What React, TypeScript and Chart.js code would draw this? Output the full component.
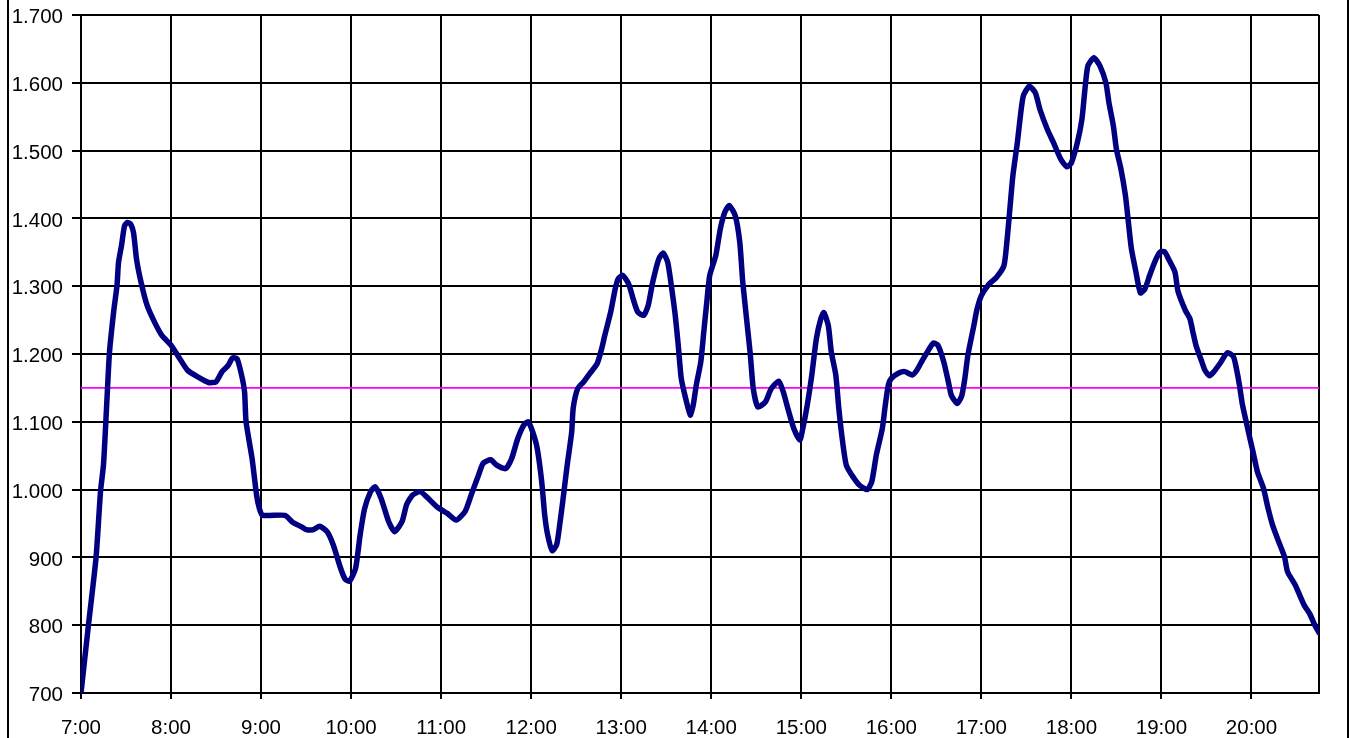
import React, { useEffect, useRef } from "react";
import { Chart, registerables } from "chart.js";

Chart.register(...registerables);

// minutes after 7:00
const minutes = [
  0, 5, 10, 13, 15, 17, 19, 22, 24, 25, 27, 29, 31, 33, 35, 37, 40, 44, 49, 54,
  60, 65, 71, 78, 85, 90, 94, 98, 101, 104, 107, 109, 110, 114, 117, 119, 121, 136, 141, 147,
  150, 155, 159, 164, 168, 173, 176, 179, 183, 186, 189, 193, 196, 200, 205, 209, 214, 217, 221, 226,
  230, 237, 244, 250, 256, 260, 265, 268, 273, 277, 283, 287, 291, 295, 298, 301, 304, 307, 309, 311,
  314, 317, 319, 321, 324, 327, 328, 331, 335, 339, 344, 347, 349, 353, 356, 358, 361, 365, 368, 371,
  375, 378, 381, 385, 388, 391, 394, 396, 398, 400, 403, 406, 408, 410, 413, 415, 417, 419, 423, 426,
  429, 432, 436, 439, 441, 444, 446, 448, 451, 456, 460, 465, 468, 471, 475, 479, 481, 484, 487, 490,
  493, 495, 498, 500, 503, 505, 507, 510, 515, 519, 524, 527, 530, 534, 536, 538, 540, 545, 549, 554,
  557, 560, 564, 568, 571, 575, 578, 580, 584, 587, 589, 591, 595, 597, 600, 605, 610, 615, 617, 619,
  621, 624, 626, 628, 632, 636, 639, 644, 648, 653, 657, 660, 664, 667, 669, 671, 675, 679, 683, 685,
  688, 690, 693, 696, 698, 700, 703, 706, 709, 712, 716, 719, 722, 725, 729, 731, 736, 739, 741, 743,
  747, 749, 752, 755, 759, 764, 768, 770, 772, 774, 777, 779, 781, 784, 788, 791, 794, 798, 802, 804,
  809, 812, 815, 819, 822, 825,
];

const values = [
  700, 801, 899, 997, 1037, 1120, 1203, 1267, 1301, 1335, 1360, 1389, 1394, 1392, 1379, 1340, 1306, 1272, 1247, 1227,
  1213, 1196, 1176, 1166, 1158, 1159, 1174, 1183, 1194, 1193, 1169, 1144, 1100, 1046, 992, 971, 962, 962, 952, 945,
  941, 941, 946, 938, 919, 884, 868, 865, 884, 933, 972, 997, 1004, 987, 953, 938, 953, 978, 992, 997,
  990, 975, 965, 955, 968, 992, 1022, 1039, 1044, 1036, 1031, 1046, 1075, 1095, 1100, 1085, 1061, 1012, 963, 933,
  910, 919, 948, 982, 1036, 1085, 1120, 1149, 1159, 1171, 1186, 1208, 1227, 1262, 1296, 1311, 1316, 1303, 1281, 1262,
  1257, 1272, 1306, 1340, 1349, 1335, 1291, 1257, 1213, 1164, 1134, 1110, 1125, 1154, 1188, 1232, 1276, 1316, 1345, 1384,
  1409, 1419, 1404, 1365, 1306, 1242, 1200, 1149, 1122, 1129, 1149, 1160, 1144, 1120, 1090, 1073, 1090, 1125, 1169, 1222,
  1252, 1261, 1242, 1203, 1169, 1120, 1080, 1036, 1017, 1006, 1000, 1012, 1051, 1090, 1125, 1154, 1164, 1172, 1174, 1169,
  1176, 1188, 1203, 1216, 1213, 1188, 1159, 1139, 1127, 1139, 1164, 1198, 1242, 1265, 1286, 1303, 1313, 1330, 1365, 1414,
  1463, 1512, 1551, 1581, 1595, 1585, 1561, 1531, 1512, 1487, 1476, 1482, 1512, 1546, 1590, 1625, 1637, 1625, 1600, 1571,
  1536, 1502, 1473, 1434, 1394, 1355, 1321, 1290, 1296, 1315, 1338, 1350, 1351, 1339, 1321, 1293, 1264, 1252, 1232, 1213,
  1188, 1176, 1168, 1174, 1186, 1202, 1196, 1178, 1154, 1125, 1095, 1075, 1056, 1026, 1002, 973, 948, 924, 901, 879,
  860, 845, 830, 816, 801, 789,
];

const referenceValue = 1150;
const xMin = 0;
const xMax = 825;
const hourTicks = [0, 60, 120, 180, 240, 300, 360, 420, 480, 540, 600, 660, 720, 780];
const hourLabels = [
  "7:00", "8:00", "9:00", "10:00", "11:00", "12:00", "13:00",
  "14:00", "15:00", "16:00", "17:00", "18:00", "19:00", "20:00",
];
const yMin = 700;
const yMax = 1700;
const yStep = 100;

function formatY(v: number): string {
  const n = Math.round(v);
  if (n >= 1000) {
    const th = Math.floor(n / 1000);
    const rest = String(n % 1000).padStart(3, "0");
    return th + "." + rest;
  }
  return String(n);
}

export default function App() {
  const ref = useRef<HTMLCanvasElement | null>(null);

  useEffect(() => {
    if (!ref.current) return;
    const font = { family: "'Liberation Sans', Arial, sans-serif", size: 20.5 };
    const chart = new Chart(ref.current, {
      type: "line",
      data: {
        datasets: [
          {
            data: minutes.map((m, i) => ({ x: m, y: values[i] })),
            borderColor: "#000080",
            borderWidth: 5.5,
            pointRadius: 0,
            tension: 0.2,
            fill: false,
            borderJoinStyle: "round",
            borderCapStyle: "round",
            order: 0,
          },
          {
            data: [
              { x: xMin, y: referenceValue },
              { x: xMax, y: referenceValue },
            ],
            borderColor: "#FF00FF",
            borderWidth: 1.6,
            pointRadius: 0,
            fill: false,
            order: 1,
          },
        ],
      },
      options: {
        responsive: false,
        animation: false,
        events: [],
        layout: { padding: { left: 0, top: 15, right: 32, bottom: 0 } },
        plugins: { legend: { display: false }, tooltip: { enabled: false }, title: { display: false } },
        scales: {
          x: {
            type: "linear",
            min: xMin,
            max: xMax,
            afterBuildTicks: (s: any) => {
              s.ticks = hourTicks.concat([xMax]).map((v) => ({ value: v }));
            },
            afterFit: (s: any) => {
              s.height = 45;
              s.paddingLeft = 0;
              s.paddingRight = 0;
            },
            ticks: {
              autoSkip: false,
              maxRotation: 0,
              minRotation: 0,
              color: "#000",
              font,
              padding: 17,
              callback: (v: any) => {
                const idx = hourTicks.indexOf(Number(v));
                return idx >= 0 ? hourLabels[idx] : "";
              },
            },
            grid: {
              color: "#000",
              lineWidth: 2,
              tickLength: 6,
              tickColor: (ctx: any) => (ctx.tick && ctx.tick.value === xMax ? "rgba(0,0,0,0)" : "#000"),
            },
            border: { color: "#000", width: 2 },
          },
          y: {
            type: "linear",
            min: yMin,
            max: yMax,
            afterFit: (s: any) => {
              s.width = 81;
              s.paddingTop = 0;
              s.paddingBottom = 0;
            },
            ticks: {
              stepSize: yStep,
              color: "#000",
              font,
              padding: 9,
              labelOffset: 2.5,
              callback: (v: any) => formatY(Number(v)),
            },
            grid: { color: "#000", lineWidth: 2, tickLength: 9 },
            border: { color: "#000", width: 2 },
          },
        },
      },
    } as any);
    return () => chart.destroy();
  }, []);

  return (
    <div style={{ position: "fixed", left: 0, top: 0, width: 1351, height: 738, background: "#fff" }}>
      <canvas ref={ref} width={1351} height={738} style={{ display: "block" }} />
      <div
        style={{
          position: "absolute",
          left: 7,
          top: 0,
          width: 1338,
          height: 738,
          borderLeft: "2px solid #000",
          borderRight: "2px solid #000",
          pointerEvents: "none",
        }}
      />
    </div>
  );
}
